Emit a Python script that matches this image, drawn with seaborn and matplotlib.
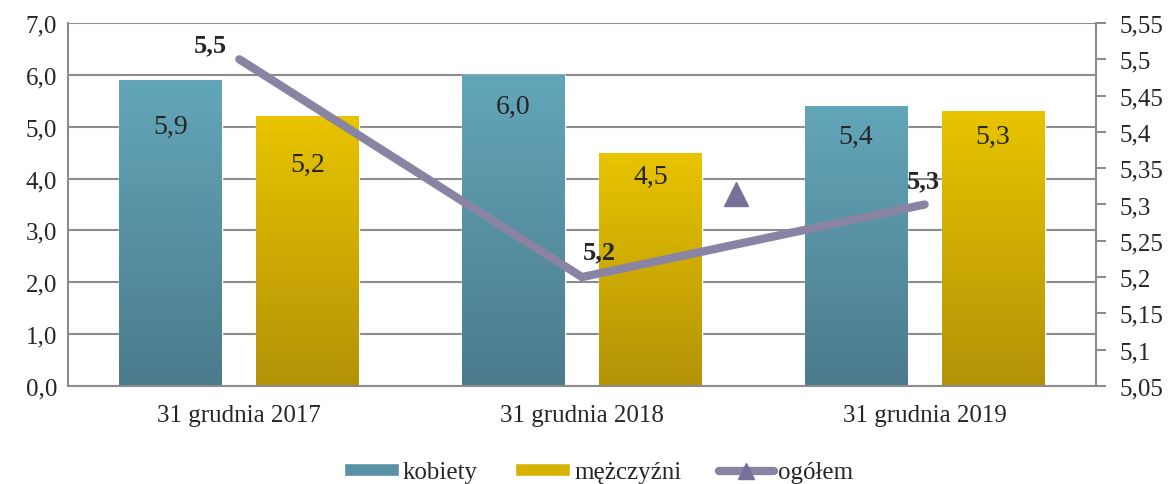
import numpy as np
import pandas as pd
import matplotlib
matplotlib.use("Agg")
import matplotlib.pyplot as plt
import seaborn as sns
from matplotlib.colors import LinearSegmentedColormap
from matplotlib.lines import Line2D
from matplotlib.patches import Patch

# dane
kategorie = ["31 grudnia 2017", "31 grudnia 2018", "31 grudnia 2019"]
kobiety = [5.9, 6.0, 5.4]
mezczyzni = [5.2, 4.5, 5.3]
ogolem = [5.5, 5.2, 5.3]
# zabłąkany znacznik z oryginalnego wykresu
znacznik_x = [1.45]
znacznik_y = [5.314]

lewe_ticki = np.arange(0, 7.01, 1.0)
prawe_ticki = [5.05, 5.1, 5.15, 5.2, 5.25, 5.3, 5.35, 5.4, 5.45, 5.5, 5.55]

df = pd.DataFrame({
    "kategoria": kategorie * 2,
    "płeć": ["kobiety"] * 3 + ["mężczyźni"] * 3,
    "wartość": kobiety + mezczyzni,
})

sns.set_style("white")
plt.rcParams["font.family"] = ["Liberation Serif", "DejaVu Serif"]

kolory = {"kobiety": ("#63a6b9", "#4b7b8c"), "mężczyźni": ("#e8c400", "#b39208")}
kolor_linii = "#8a84a4"
szary = "#8c8c8c"

fig = plt.figure(figsize=(11.69, 4.85), dpi=100)
ax = fig.add_axes([0.0582, 0.2021, 0.8793, 0.7484])

sns.barplot(data=df, x="kategoria", y="wartość", hue="płeć",
            palette={k: v[0] for k, v in kolory.items()},
            width=0.8, gap=0.25, ax=ax, legend=False, zorder=2)

# gradient na słupkach
for patch, plec in zip(ax.patches, df["płeć"]):
    gora, dol = kolory[plec]
    cmap = LinearSegmentedColormap.from_list("g", [dol, gora])
    x0, y0 = patch.get_x(), patch.get_y()
    w, h = patch.get_width(), patch.get_height()
    grad = np.linspace(0, 1, 256).reshape(-1, 1)
    im = ax.imshow(grad, cmap=cmap, origin="lower", aspect="auto",
                   extent=[x0, x0 + w, y0, y0 + h], zorder=2.1)
    im.set_clip_path(patch)

# etykiety w słupkach (odsunięcie od góry słupka, jak w oryginale)
odsuniecia = [0.9, 0.6, 0.58, 0.92, 0.45, 0.48]
for patch, wart, ods in zip(ax.patches, df["wartość"], odsuniecia):
    ax.text(patch.get_x() + patch.get_width() / 2, wart - ods,
            f"{wart:.1f}".replace(".", ","), ha="center", va="center",
            fontsize=20, zorder=3)

ax.set_xlim(-0.5, 2.5)
ax.set_ylim(0, 7)
ax.set_yticks(lewe_ticki)
ax.set_yticklabels([f"{t:.1f}".replace(".", ",") for t in lewe_ticki], fontsize=18)
ax.set_xlabel("")
ax.set_ylabel("")
ax.tick_params(axis="x", length=0, labelsize=18, pad=13)
ax.tick_params(axis="y", length=0, pad=8)
ax.yaxis.grid(True, color=szary, linewidth=1.5, zorder=0)
ax.set_axisbelow(True)
for s in ["top", "right"]:
    ax.spines[s].set_visible(False)
for s in ["left", "bottom"]:
    ax.spines[s].set_color(szary)
    ax.spines[s].set_linewidth(1.5)

# druga oś – ogółem
ax2 = ax.twinx()
sns.lineplot(x=[0, 1, 2], y=ogolem, ax=ax2, color=kolor_linii, linewidth=6,
             solid_capstyle="round", solid_joinstyle="miter")
ax2.plot(znacznik_x, znacznik_y, marker="^", markersize=17, color="#77719a",
         linestyle="none")
ax2.set_ylim(5.05, 5.55)
ax2.set_yticks(prawe_ticki)
ax2.set_yticklabels([f"{t:g}".replace(".", ",") for t in prawe_ticki], fontsize=18)
ax2.tick_params(axis="y", length=7, width=1.5, color=szary, pad=10)
for s in ["top", "left", "bottom"]:
    ax2.spines[s].set_visible(False)
ax2.spines["right"].set_color(szary)
ax2.spines["right"].set_linewidth(1.5)

przesuniecia = [(-0.086, 0.02), (0.05, 0.035), (-0.005, 0.032)]
for i, (v, (dx, dy)) in enumerate(zip(ogolem, przesuniecia)):
    ax2.text(i + dx, v + dy, f"{v:g}".replace(".", ","), ha="center",
             va="center", fontsize=19, fontweight="bold")

uchwyty = [
    Patch(facecolor="#5892a4", label="kobiety"),
    Patch(facecolor="#d6b204", label="mężczyźni"),
    Line2D([], [], color=kolor_linii, linewidth=6, marker="^", markersize=12,
           markerfacecolor="#77719a", markeredgecolor="#77719a", label="ogółem"),
]
fig.legend(handles=uchwyty, loc="lower center", bbox_to_anchor=(0.512, -0.045),
           ncol=3, frameon=False, fontsize=18, handlelength=2.2,
           handleheight=0.45, handletextpad=0.15, columnspacing=1.5)

fig.savefig("out.png", dpi=100)
